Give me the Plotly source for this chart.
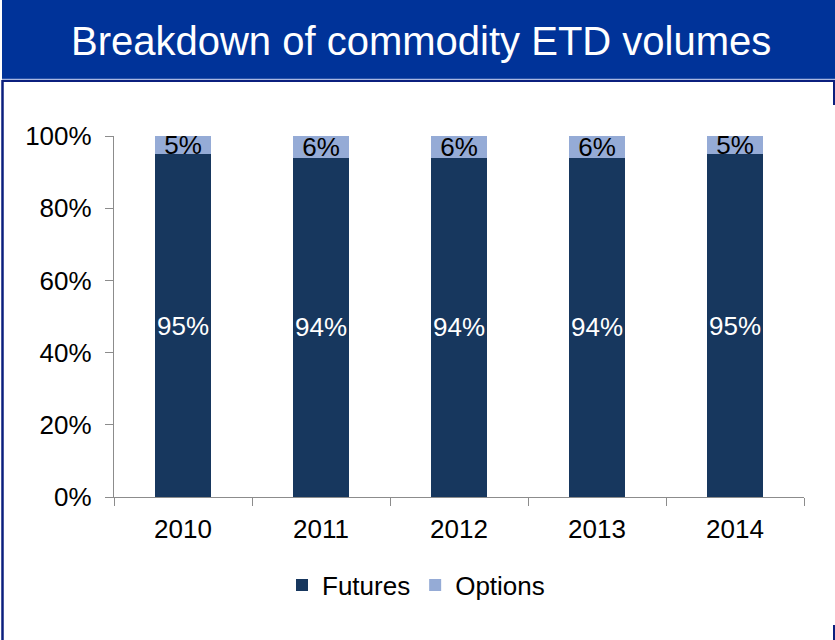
import plotly.graph_objects as go

# Share of commodity exchange-traded derivative volumes by year
years = ["2010", "2011", "2012", "2013", "2014"]
futures = [95, 94, 94, 94, 95]
options = [5, 6, 6, 6, 5]

FUT_COLOR = "#17375E"
OPT_COLOR = "#95ABD6"
BANNER = "#003399"
NAVY = "#0B1F7E"
AXIS_GRAY = "#8C8C8C"
FONT = "Liberation Sans, Arial, sans-serif"

W_PX, H_PX = 835, 640
L, R, T, B = 114, 31, 136, 143
PW = W_PX - L - R
PH = H_PX - T - B


def xp(px):
    return (px - L) / PW


def yp(py):
    return (H_PX - B - py) / PH


fig = go.Figure()
fig.add_trace(go.Bar(
    name="Futures", x=years, y=[v / 100 for v in futures],
    marker=dict(color=FUT_COLOR, line=dict(width=0)),
    text=[f"{v}%" for v in futures], textposition="inside",
    insidetextanchor="middle", textangle=0, constraintext="none",
    textfont=dict(family=FONT, size=26, color="white"),
    hoverinfo="skip",
))
fig.add_trace(go.Bar(
    name="Options", x=years, y=[v / 100 for v in options],
    marker=dict(color=OPT_COLOR, line=dict(width=0)),
    text=[f"{v}%" for v in options], textposition="inside",
    insidetextanchor="middle", textangle=0, constraintext="none",
    textfont=dict(family=FONT, size=26, color="black"),
    hoverinfo="skip",
))

shapes = [
    # title banner
    dict(type="rect", xref="paper", yref="paper",
         x0=xp(2), x1=xp(835), y0=yp(79), y1=yp(0),
         fillcolor=BANNER, line=dict(width=0), layer="below"),
    dict(type="line", xref="paper", yref="paper",
         x0=xp(2), x1=xp(835), y0=yp(79.5), y1=yp(79.5),
         line=dict(color="#A9B8E2", width=1.5)),
    # panel frame
    dict(type="line", xref="paper", yref="paper",
         x0=xp(2), x1=xp(835), y0=yp(81), y1=yp(81),
         line=dict(color=NAVY, width=2)),
    dict(type="line", xref="paper", yref="paper",
         x0=xp(2.5), x1=xp(2.5), y0=yp(80), y1=yp(640),
         line=dict(color=NAVY, width=2.5)),
    dict(type="line", xref="paper", yref="paper",
         x0=xp(834), x1=xp(834), y0=yp(81), y1=yp(105),
         line=dict(color=NAVY, width=2)),
    dict(type="line", xref="paper", yref="paper",
         x0=xp(834), x1=xp(834), y0=yp(625), y1=yp(640),
         line=dict(color=NAVY, width=2)),
]

fig.update_layout(
    width=W_PX, height=H_PX,
    margin=dict(l=L, r=R, t=T, b=B),
    paper_bgcolor="white", plot_bgcolor="white",
    barmode="stack", bargap=0.6,
    font=dict(family=FONT, size=26, color="black"),
    shapes=shapes,
    annotations=[dict(
        text="Breakdown of commodity ETD volumes",
        xref="paper", yref="paper", x=xp(421), y=yp(41),
        xanchor="center", yanchor="middle", showarrow=False,
        font=dict(family=FONT, size=40, color="white"),
    )],
    legend=dict(orientation="h", x=xp(416), xanchor="center",
                y=yp(585), yanchor="middle", traceorder="normal",
                font=dict(family=FONT, size=26, color="black"),
                bgcolor="rgba(0,0,0,0)", itemclick=False),
    showlegend=True,
)

fig.update_xaxes(
    type="category", showline=True, linecolor=AXIS_GRAY, linewidth=1.3,
    ticks="outside", ticklen=8, tickcolor=AXIS_GRAY, tickson="boundaries",
    showgrid=False, ticklabelstandoff=9,
    tickfont=dict(family=FONT, size=26, color="black"),
)
fig.update_yaxes(
    range=[0, 1], dtick=0.2, tickformat=".0%",
    showline=True, linecolor=AXIS_GRAY, linewidth=1.3,
    ticks="outside", ticklen=8, tickcolor=AXIS_GRAY,
    showgrid=False, zeroline=False, ticklabelstandoff=8,
    tickfont=dict(family=FONT, size=26, color="black"),
)

fig.write_html("out.html")
